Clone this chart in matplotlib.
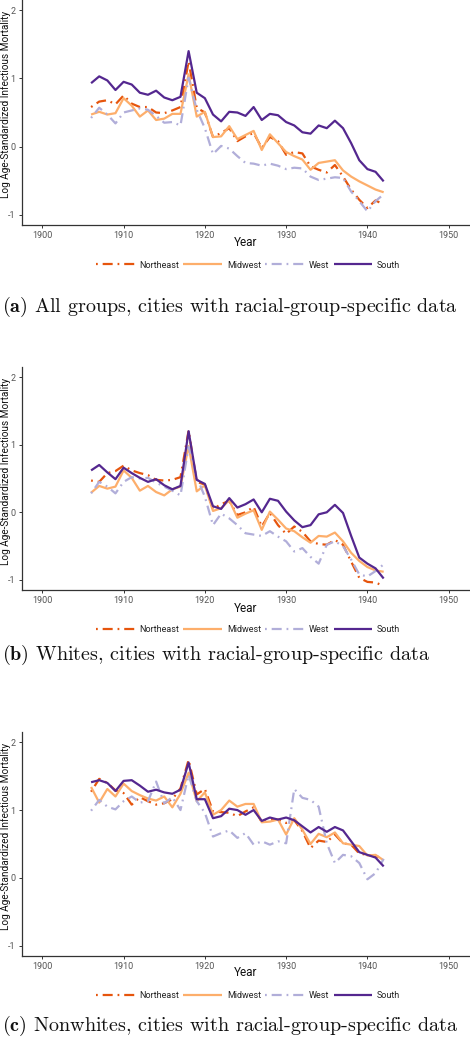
import matplotlib
matplotlib.use("Agg")
from matplotlib import pyplot as plt

plt.rcParams['font.family'] = ['Roboto', 'DejaVu Sans']
plt.rcParams['mathtext.fontset'] = 'cm'

years = list(range(1906, 1943))
regions = ["Northeast", "Midwest", "West", "South"]

# (a) all groups
a_northeast = [0.58, 0.66, 0.68, 0.62, 0.75, 0.63, 0.58, 0.58, 0.50, 0.49, 0.53, 0.58, 1.25,
               0.57, 0.50, 0.14, 0.20, 0.27, 0.08, 0.15, 0.20, -0.02, 0.14, 0.08, -0.12, -0.08,
               -0.10, -0.29, -0.34, -0.38, -0.27, -0.44, -0.63, -0.78, -0.90, -0.79, -0.85]
a_midwest = [0.47, 0.51, 0.47, 0.49, 0.71, 0.60, 0.44, 0.53, 0.39, 0.41, 0.48, 0.48, 1.06,
             0.44, 0.51, 0.14, 0.15, 0.30, 0.11, 0.17, 0.23, -0.05, 0.18, 0.05, -0.08, -0.14,
             -0.19, -0.34, -0.24, -0.22, -0.20, -0.35, -0.44, -0.51, -0.57, -0.63, -0.67]
a_west = [0.42, 0.57, 0.47, 0.34, 0.50, 0.53, 0.56, 0.54, 0.45, 0.35, 0.36, 0.31, 1.01,
          0.54, 0.27, -0.11, 0.01, -0.03, -0.14, -0.24, -0.25, -0.28, -0.25, -0.28, -0.33, -0.31,
          -0.32, -0.44, -0.49, -0.47, -0.45, -0.46, -0.66, -0.80, -0.95, -0.80, -0.70]
a_south = [0.93, 1.03, 0.97, 0.83, 0.95, 0.91, 0.79, 0.76, 0.82, 0.72, 0.68, 0.73, 1.40,
           0.79, 0.71, 0.47, 0.37, 0.51, 0.50, 0.45, 0.58, 0.39, 0.48, 0.46, 0.36, 0.31,
           0.21, 0.19, 0.31, 0.27, 0.38, 0.27, 0.05, -0.20, -0.33, -0.37, -0.51]

# (b) whites
b_northeast = [0.47, 0.45, 0.58, 0.61, 0.69, 0.62, 0.58, 0.55, 0.48, 0.47, 0.48, 0.52, 1.21,
               0.45, 0.41, 0.05, 0.12, 0.17, -0.04, 0.00, 0.08, -0.21, -0.01, -0.19, -0.32, -0.21,
               -0.29, -0.43, -0.47, -0.48, -0.41, -0.48, -0.73, -0.97, -1.03, -1.04, -1.09]
b_midwest = [0.29, 0.39, 0.35, 0.38, 0.62, 0.51, 0.32, 0.39, 0.30, 0.25, 0.34, 0.38, 0.98,
             0.31, 0.40, 0.02, 0.06, 0.18, -0.08, -0.02, 0.03, -0.26, 0.01, -0.11, -0.24, -0.28,
             -0.37, -0.45, -0.35, -0.36, -0.30, -0.43, -0.60, -0.72, -0.81, -0.86, -0.88]
b_west = [0.28, 0.45, 0.38, 0.28, 0.45, 0.52, 0.50, 0.51, 0.44, 0.38, 0.32, 0.25, 0.97,
          0.52, 0.23, -0.19, -0.02, -0.09, -0.19, -0.31, -0.33, -0.35, -0.28, -0.36, -0.43, -0.58,
          -0.53, -0.66, -0.76, -0.48, -0.43, -0.50, -0.70, -0.92, -0.95, -0.87, -0.77]
b_south = [0.62, 0.70, 0.59, 0.49, 0.66, 0.58, 0.51, 0.45, 0.49, 0.40, 0.34, 0.39, 1.20,
           0.48, 0.42, 0.09, 0.05, 0.21, 0.07, 0.12, 0.19, 0.00, 0.20, 0.17, 0.01, -0.12,
           -0.22, -0.19, -0.03, 0.00, 0.11, -0.01, -0.35, -0.67, -0.76, -0.83, -0.98]

# (c) nonwhites
c_northeast = [1.27, 1.46, 1.40, 1.29, 1.25, 1.08, 1.19, 1.13, 1.08, 1.10, 1.16, 1.32, 1.74,
               1.23, 1.31, 0.98, 0.97, 0.96, 0.91, 0.98, 1.04, 0.82, 0.85, 0.86, 0.81, 0.85,
               0.69, 0.44, 0.55, 0.53, 0.64, 0.51, 0.49, 0.36, 0.34, 0.32, 0.29]
c_midwest = [1.34, 1.11, 1.31, 1.20, 1.39, 1.28, 1.22, 1.17, 1.14, 1.20, 1.04, 1.24, 1.55,
             1.13, 1.26, 0.93, 1.00, 1.14, 1.05, 1.09, 1.09, 0.82, 0.83, 0.86, 0.64, 0.88,
             0.71, 0.50, 0.65, 0.60, 0.67, 0.51, 0.49, 0.47, 0.33, 0.34, 0.26]
c_west = [0.99, 1.15, 1.05, 1.01, 1.13, 1.20, 1.11, 1.13, 1.42, 1.10, 1.19, 1.00, 1.52,
          1.13, 0.96, 0.61, 0.66, 0.70, 0.59, 0.66, 0.49, 0.54, 0.49, 0.54, 0.51, 1.31,
          1.18, 1.15, 1.05, 0.51, 0.22, 0.34, 0.32, 0.22, -0.02, 0.07, 0.28]
c_south = [1.41, 1.44, 1.40, 1.28, 1.43, 1.44, 1.36, 1.27, 1.30, 1.26, 1.24, 1.30, 1.70,
           1.16, 1.16, 0.88, 0.91, 1.02, 1.00, 0.93, 1.00, 0.84, 0.89, 0.86, 0.89, 0.85,
           0.76, 0.67, 0.75, 0.68, 0.75, 0.70, 0.54, 0.38, 0.34, 0.30, 0.17]

panels = [
    ([a_northeast, a_midwest, a_west, a_south], "All groups, cities with racial-group-specific data", "a"),
    ([b_northeast, b_midwest, b_west, b_south], "Whites, cities with racial-group-specific data", "b"),
    ([c_northeast, c_midwest, c_west, c_south], "Nonwhites, cities with racial-group-specific data", "c"),
]

colors = ["#e6550d", "#fdae6b", "#b1aed9", "#54278f"]
dotdash = (0, (0.8, 2.2, 4.5, 2.2))
styles = [dotdash, "-", dotdash, "-"]

W, H = 470, 1050
fig = plt.figure(figsize=(W / 100, H / 100), dpi=100)

# pixel rows: axes top, axes bottom, xlabel, legend, caption
rows = [(0, 225, 242, 265, 307), (367, 590, 608, 630, 655), (732, 956, 973, 996, 1026)]
left, right = 22, 469

for (series, caption, tag), (top, bottom, ylab, leg, cap) in zip(panels, rows):
    ax = fig.add_axes([left / W, 1 - bottom / H, (right - left) / W, (bottom - top) / H])
    for vals, name, col, ls in zip(series, regions, colors, styles):
        ax.plot(years, vals, color=col, linestyle=ls, lw=1.6, label=name,
                dash_capstyle="butt", solid_capstyle="butt")
    ax.set_xlim(1897.5, 1952.5)
    ax.set_ylim(-1.15, 2.15)
    ax.set_xticks([1900, 1910, 1920, 1930, 1940, 1950])
    ax.set_yticks([-1, 0, 1, 2])
    ax.set_yticklabels(["-1", "0", "1", "2"])
    for s in ["top", "right"]:
        ax.spines[s].set_visible(False)
    for s in ["left", "bottom"]:
        ax.spines[s].set_color("#333333")
        ax.spines[s].set_linewidth(0.9)
    ax.tick_params(axis="both", labelsize=6.5, labelcolor="#555555", color="#333333",
                   length=2.5, width=0.7, pad=2)
    # y label placed by hand so it sits at the far left edge
    fig.text(5.5 / W, 1 - (top + 104) / H, "Log Age-Standardized Infectious Mortality",
             rotation=90, ha="center", va="center", fontsize=7.2, color="#111111")
    fig.text((left + right) / 2 / W, 1 - ylab / H, "Year", ha="center", va="center",
             fontsize=8.5, color="#111111")
    fig.legend(*ax.get_legend_handles_labels(), loc="center", ncol=4,
               bbox_to_anchor=(248 / W, 1 - leg / H), frameon=False, fontsize=6.5,
               handlelength=4.3, handletextpad=0.5, columnspacing=0.5, labelcolor="#222222")
    fig.text(2 / W, 1 - cap / H, r"$\mathbf{(" + tag + r")}$ " + caption, ha="left", va="center",
             fontsize=14.5, family="cmr10", color="#111111")

fig.savefig("out.png", dpi=100)
